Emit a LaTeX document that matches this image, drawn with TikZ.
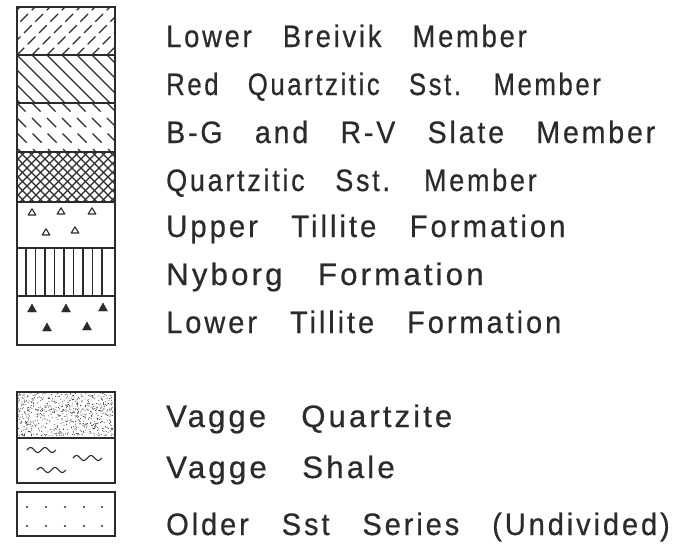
\documentclass[tikz,border=0pt]{standalone}
\usepackage{fontspec}
\setmainfont{Liberation Sans}[LetterSpace=10,WordSpace=3,FakeBold=0.6]
\usetikzlibrary{positioning}
\definecolor{cink}{HTML}{2B2B2B}
\newcommand{\squeeze}[2]{\scalebox{#1}[1]{#2}}
\tikzset{
  legbox/.style={draw=cink, line width=1.2pt, minimum width=98pt, inner sep=0pt},
  hatch/.style={draw=cink, line width=1.1pt},
  lab/.style={anchor=base west, inner sep=0pt, font=\fontsize{31}{34}\selectfont, text=cink},
  opentri/.style={draw=cink, line width=1.1pt, line join=round},
  solidtri/.style={fill=cink, draw=cink, line join=round},
  wave/.style={draw=cink, line width=1.1pt},
  speck/.style={fill=cink},
}

\begin{document}
\begin{tikzpicture}[x=1pt,y=-1pt]
\useasboundingbox (0,0) rectangle (699,549);
% upper column
\node[legbox, minimum height=48pt] (breivik) at (66,31) {};
\node[legbox, minimum height=48pt] (redq) at (66,79) {};
\node[legbox, minimum height=49pt] (slate) at (66,127.5) {};
\node[legbox, minimum height=50pt] (quartz) at (66,177) {};
\node[legbox, minimum height=46pt] (uppert) at (66,225) {};
\node[legbox, minimum height=48pt] (nyborg) at (66,272) {};
\node[legbox, minimum height=49pt] (lowert) at (66,320.5) {};
% lower column
\node[legbox, minimum height=46pt] (vquartz) at (66,415) {};
\node[legbox, minimum height=45pt] (vshale) at (66,460.5) {};
\node[legbox, minimum height=44pt] (older) at (66,514) {};

% dashed / lines
\begin{scope}
\clip (breivik.north west) rectangle (breivik.south east);
\foreach \k in {-60,-45,...,110}
  \draw[hatch, dash pattern=on 11pt off 5pt] ([xshift=\k pt]breivik.south west) -- ++(60,-60);
\end{scope}
% full \ lines
\begin{scope}
\clip (redq.north west) rectangle (redq.south east);
\foreach \k in {-60,-45,...,110}
  \draw[hatch] ([xshift=\k pt]redq.north west) -- ++(60,60);
\end{scope}
% dashed \ lines
\begin{scope}
\clip (slate.north west) rectangle (slate.south east);
\foreach \k in {-60,-45,...,110}
  \draw[hatch, dash pattern=on 13pt off 9pt] ([xshift=\k pt]slate.north west) -- ++(60,60);
\end{scope}
% cross hatch
\begin{scope}
\clip (quartz.north west) rectangle (quartz.south east);
\foreach \k in {-60,-51,...,110} {
  \draw[hatch] ([xshift=\k pt]quartz.north west) -- ++(60,60);
  \draw[hatch] ([xshift=\k pt]quartz.south west) -- ++(60,-60);
}
\end{scope}
% open triangles
\foreach \px/\py in {32/212, 61/211, 92/211, 46/232, 75/230}
  \draw[opentri] (\px-3.8,\py+3) -- (\px+3.8,\py+3) -- (\px,\py-3.2) -- cycle;
% vertical lines
\foreach \px in {26,35.5,45,54.5,64,73.5,83,92.5,102}
  \draw[hatch] (\px,248) -- (\px,296);
% solid triangles
\foreach \px/\py in {32/308, 66/308, 103/307, 47/327, 87/326}
  \fill[solidtri] (\px-4.5,\py+4) -- (\px+4.5,\py+4) -- (\px,\py-4) -- cycle;
% stipple
\pgfmathsetseed{42}
\foreach \i in {1,...,700} {
  \pgfmathsetmacro\dx{1.5+rnd*95}
  \pgfmathsetmacro\dy{1.5+rnd*43}
  \fill[speck] ([xshift=\dx pt, yshift=-\dy pt]vquartz.north west) circle (0.5pt);
}
% wavy lines
\foreach \px/\py in {27/450, 73/458, 37/470}
  \draw[wave] (\px,\py) sin ++(3.6,-2.6) cos ++(3.6,2.6) sin ++(3.6,2.6) cos ++(3.6,-2.6)
    sin ++(3.6,-2.6) cos ++(3.6,2.6) sin ++(3.6,2.6) cos ++(3.6,-2.6);
% dots
\foreach \px in {27,46,65,84,102}
  \foreach \py in {507,526}
    \fill[speck] (\px,\py) circle (1.1pt);

% labels
\node[lab] (tbreivik) at (166,47) {\squeeze{0.884}{Lower Breivik Member}};
\node[lab] (tredq) at (166,95) {\squeeze{0.831}{Red Quartzitic Sst. Member}};
\node[lab] (tslate) at (166,143) {\squeeze{0.920}{B-G and R-V Slate Member}};
\node[lab] (tquartz) at (166,191) {\squeeze{0.872}{Quartzitic Sst. Member}};
\node[lab] (tuppert) at (166,237) {\squeeze{0.948}{Upper Tillite Formation}};
\node[lab] (tnyborg) at (166,285) {\squeeze{1.008}{Nyborg Formation}};
\node[lab] (tlowert) at (166,333) {\squeeze{0.938}{Lower Tillite Formation}};
\node[lab] (tvquartz) at (166,427) {\squeeze{1.002}{Vagge Quartzite}};
\node[lab] (tvshale) at (166,478) {\squeeze{1.009}{Vagge Shale}};
\node[lab] (tolder) at (166,535) {\squeeze{0.937}{Older Sst Series (Undivided)}};
\end{tikzpicture}
\end{document}
